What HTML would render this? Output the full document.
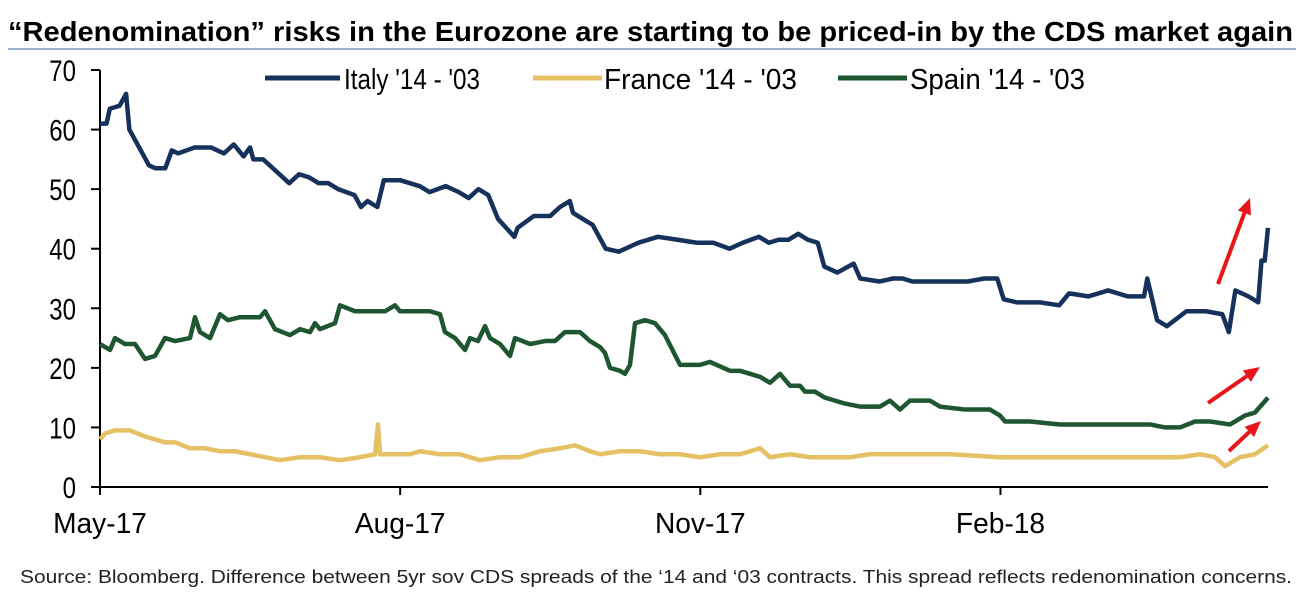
<!DOCTYPE html>
<html><head><meta charset="utf-8"><style>
body{margin:0;background:#fff;width:1304px;height:613px;overflow:hidden}
svg{display:block;font-family:"Liberation Sans",sans-serif}
</style></head><body>
<svg id="chart" width="1304" height="613">
<text x="8" y="41" font-size="28" font-weight="bold" fill="#000" textLength="1285" lengthAdjust="spacingAndGlyphs">“Redenomination” risks in the Eurozone are starting to be priced-in by the CDS market again</text>
<line x1="8" y1="49" x2="1296" y2="49" stroke="#9fb2cc" stroke-width="2"/>
<g id="axes"></g>
<g id="series"></g>
<g id="legend">
<line x1="265" y1="78" x2="340" y2="78" stroke="#16325c" stroke-width="5"/>
<text x="344" y="89" font-size="29" textLength="136" lengthAdjust="spacingAndGlyphs">Italy '14 - '03</text>
<line x1="533" y1="78" x2="602" y2="78" stroke="#e5c064" stroke-width="5"/>
<text x="604" y="89" font-size="29" textLength="193" lengthAdjust="spacingAndGlyphs">France '14 - '03</text>
<line x1="838" y1="78" x2="907" y2="78" stroke="#1e5631" stroke-width="5"/>
<text x="910" y="89" font-size="29" textLength="175" lengthAdjust="spacingAndGlyphs">Spain '14 - '03</text>
</g>
<g id="arrows" fill="#e8161b" stroke="#e8161b"></g>
<text x="20" y="583" font-size="18" fill="#222" textLength="1272" lengthAdjust="spacingAndGlyphs">Source: Bloomberg. Difference between 5yr sov CDS spreads of the ‘14 and ‘03 contracts. This spread reflects redenomination concerns.</text>
</svg>
<script>
const yTicks=[0,10,20,30,40,50,60,70];
const xTickDays=[0,92,184,276];
const xTickLabels=["May-17","Aug-17","Nov-17","Feb-18"];
const italyDays=[0,2,3,6,8,9,12,15,17,20,22,24,29,34,38,41,44,46,47,50,54,58,61,64,67,70,73,78,80,82,85,87,92,95,98,101,106,110,113,116,119,122,127,128,133,138,141,144,145,148,151,155,159,165,171,177,183,188,193,197,202,205,208,211,214,217,220,222,226,231,233,239,243,246,249,254,260,266,271,275,277,281,288,294,297,303,309,315,320,321,324,327,333,339,344,346,348,352,355,356,357,358];
const italyVals=[61,61,63.5,64,66,60,57,54,53.5,53.5,56.5,56,57,57,56,57.5,55.5,57,55,55,53,51,52.5,52,51,51,50,49,47,48,47,51.5,51.5,51,50.5,49.5,50.5,49.5,48.5,50,49,45,42,43.5,45.5,45.5,47,48,46,45,44,40,39.5,41,42,41.5,41,41,40,41,42,41,41.5,41.5,42.5,41.5,41,37,36,37.5,35,34.5,35,35,34.5,34.5,34.5,34.5,35,35,31.5,31,31,30.5,32.5,32,33,32,32,35,28,27,29.5,29.5,29,26,33,32,31,38,38,43.5];
const spainX=[100,110,115,125,135,145,155,165,175,190,195,200,210,220,228,240,260,265,275,290,300,310,315,320,335,340,355,370,385,395,400,420,430,440,445,455,465,470,478,485,490,500,510,515,530,545,555,565,580,590,600,605,610,620,625,630,635,645,655,660,665,680,700,710,730,740,750,760,770,780,790,800,805,815,825,845,860,880,890,900,910,930,940,965,990,1000,1005,1015,1030,1060,1080,1100,1120,1150,1165,1180,1195,1210,1230,1245,1255,1268];
const spainVals=[24,23,25,24,24,21.5,22,25,24.5,25,28.5,26,25,29,28,28.5,28.5,29.5,26.5,25.5,26.5,26,27.5,26.5,27.5,30.5,29.5,29.5,29.5,30.5,29.5,29.5,29.5,29,26,25,23,25,24.5,27,25,24,22,25,24,24.5,24.5,26,26,24.5,23.5,22.5,20,19.5,19,20.5,27.5,28,27.5,26.5,25.5,20.5,20.5,21,19.5,19.5,19,18.5,17.5,19,17,17,16,16,15,14,13.5,13.5,14.5,13,14.5,14.5,13.5,13,13,12,11,11,11,10.5,10.5,10.5,10.5,10.5,10,10,11,11,10.5,12,12.5,15];
const franceX=[100,105,115,130,145,155,165,175,190,205,220,235,250,265,280,300,320,340,360,375,378,380,390,400,410,420,440,460,480,500,520,540,560,575,590,600,620,640,660,680,700,720,740,760,770,790,810,830,850,870,900,950,1000,1050,1100,1150,1180,1200,1215,1225,1240,1255,1268];
const franceVals=[8,9,9.5,9.5,8.5,8,7.5,7.5,6.5,6.5,6,6,5.5,5,4.5,5,5,4.5,5,5.5,10.5,5.5,5.5,5.5,5.5,6,5.5,5.5,4.5,5,5,6,6.5,7,6,5.5,6,6,5.5,5.5,5,5.5,5.5,6.5,5,5.5,5,5,5,5.5,5.5,5.5,5,5,5,5,5,5.5,5,3.5,5,5.5,7];
const X0=100,X1=1268,DMAX=358,Y0=487,Y70=70;
const xd=d=>X0+d*(X1-X0)/DMAX;
const pxToDay=p=>(p-X0)*DMAX/(X1-X0);
const y=v=>Y0-v*(Y0-Y70)/70;
const NS="http://www.w3.org/2000/svg";
function mk(tag,attrs,parent){const e=document.createElementNS(NS,tag);for(const k in attrs)e.setAttribute(k,attrs[k]);parent.appendChild(e);return e;}
const axes=document.getElementById('axes');
let ax=mk('line',{x1:X0,y1:y(70),x2:X0,y2:Y0,stroke:'#000','stroke-width':2},axes);


let bx=mk('line',{x1:X0,y1:Y0,x2:X1,y2:Y0,stroke:'#000','stroke-width':2},axes);


yTicks.forEach(v=>{
 const t=mk('line',{x1:X0-9,y1:y(v),x2:X0,y2:y(v),stroke:'#000','stroke-width':2},axes);
 
 
 const ax0=X0-24;
 const l=mk('text',{x:ax0,y:y(v)+11,'font-size':30,'text-anchor':'end',transform:`translate(${ax0} 0) scale(0.8 1) translate(${-ax0} 0)`},axes);
 l.textContent=v;
 
 
});
xTickDays.forEach((d,i)=>{
 const t=mk('line',{x1:xd(d),y1:Y0,x2:xd(d),y2:Y0+8,stroke:'#000','stroke-width':2},axes);
 
 
 const l=mk('text',{x:xd(d),y:Y0+46,'font-size':29,'text-anchor':'middle',transform:`translate(${xd(d)} 0) scale(0.97 1) translate(${-xd(d)} 0)`},axes);
 l.textContent=xTickLabels[i];
 
 
});
const ser=document.getElementById('series');
function line(days,vals,color,name){
 const p=mk('polyline',{points:days.map((d,i)=>xd(d)+','+y(vals[i])).join(' '),fill:'none',stroke:color,'stroke-width':4.5,'stroke-linejoin':'round'},ser);
 
 
}
line(franceX.map(pxToDay),franceVals,'#e5c064','france-line');
line(spainX.map(pxToDay),spainVals,'#1e5631','spain-line');
line(italyDays,italyVals,'#16325c','italy-line');
const arr=document.getElementById('arrows');
[[1218,284,1250,198],[1208,403,1260,367],[1229,451,1261,421]].forEach(a=>{
 const [x1,y1,x2,y2]=a,ang=Math.atan2(y2-y1,x2-x1),h=16,w=7;
 const bx2=x2-h*Math.cos(ang),by2=y2-h*Math.sin(ang);
 const g=mk('g',{},arr);
 
 
 mk('line',{x1,y1,x2:bx2,y2:by2,'stroke-width':4},g);
 mk('polygon',{points:`${x2},${y2} ${bx2+w*Math.sin(ang)},${by2-w*Math.cos(ang)} ${bx2-w*Math.sin(ang)},${by2+w*Math.cos(ang)}`,stroke:'none'},g);
});
</script>
</body></html>
